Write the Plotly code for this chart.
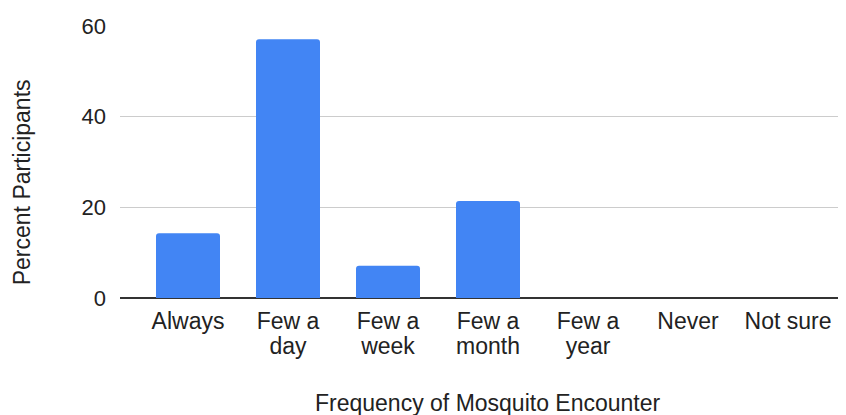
import plotly.graph_objects as go

categories = ["Always", "Few a<br>day", "Few a<br>week", "Few a<br>month", "Few a<br>year", "Never", "Not sure"]
percent = [14.3, 57.1, 7.1, 21.4, 0, 0, 0]
y_ticks = [0, 20, 40, 60]

# page body adds an 8px offset; size figure so it fits in the 846x415 window
OFF = 8
W, H = 846 - OFF, 415 - OFF
PL, PR, PT, PB = 120, 840, 23, 298  # plot area in screen pixels
L, R, T, B = PL - OFF, (OFF + W) - PR, PT - OFF, (OFF + H) - PB
PW, PH = PR - PL, PB - PT

# tighter line spacing: smaller base font, larger visible glyphs via span
tick_text = ["<br>".join(f"<span style='font-size:23px'>{part}</span>" for part in c.split("<br>"))
             for c in categories]

fig = go.Figure(go.Bar(
    x=list(range(len(categories))), y=percent,
    marker=dict(color="#4285F4", cornerradius=3, line=dict(width=0)),
    width=0.64,
))

ytick_font = dict(family="Arial, Liberation Sans, sans-serif", size=22, color="#222222")
xtick_font = dict(family="Arial, Liberation Sans, sans-serif", size=19, color="#222222")
font = dict(family="Arial, Liberation Sans, sans-serif", size=23, color="#222222")

fig.update_layout(
    width=W, height=H,
    margin=dict(l=L, r=R, t=T, b=B, pad=0),
    paper_bgcolor="white", plot_bgcolor="white",
    font=font, showlegend=False,
    xaxis=dict(
        range=[-0.68, 6.52], tickmode="array",
        tickvals=list(range(len(categories))), ticktext=tick_text,
        showgrid=False, zeroline=False, showline=False, ticks="",
        ticklabelstandoff=11, tickfont=xtick_font,
    ),
    yaxis=dict(
        range=[0, 60], tickmode="array", tickvals=y_ticks,
        showgrid=True, gridcolor="#cccccc", gridwidth=1,
        zeroline=True, zerolinecolor="#333333", zerolinewidth=2,
        showline=False, ticks="", ticklabelstandoff=13, tickfont=ytick_font,
    ),
    annotations=[
        dict(text="Frequency of Mosquito Encounter", xref="paper", yref="paper",
             x=(488 - PL) / PW, y=-(404 - PB) / PH,
             xanchor="center", yanchor="middle", showarrow=False, font=font),
        dict(text="Percent Participants", xref="paper", yref="paper",
             x=-(PL - 22) / PW, y=1 - (181 - PT) / PH,
             xanchor="center", yanchor="middle", showarrow=False,
             textangle=-90, font=font),
    ],
)

fig.write_html("out.html")
